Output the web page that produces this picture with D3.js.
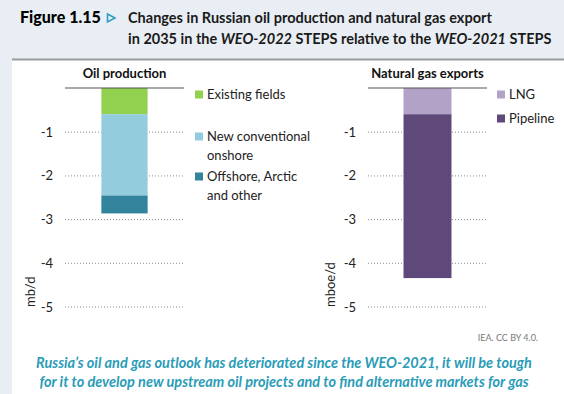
<!DOCTYPE html>
<html><head><meta charset="utf-8">
<script src="https://cdn.jsdelivr.net/npm/d3@7/dist/d3.min.js"></script>
<style>
html,body{margin:0;padding:0;background:#e9eef4;}
svg{display:block;}
</style></head>
<body><svg id="c" width="564" height="394"></svg>
<script>
// ---- data ----
const panelTitles = ["Oil production", "Natural gas exports"];
const unitLabels = ["mb/d", "mboe/d"];
const oilCategories = ["Existing fields", "New conventional onshore", "Offshore, Arctic and other"];
const oilValues = [-0.6, -1.86, -0.41];
const oilColors = ["#92d050", "#93cddd", "#31849b"];
const gasCategories = ["LNG", "Pipeline"];
const gasValues = [-0.6, -3.75];
const gasColors = ["#b3a2c7", "#5f497a"];
const yTicks = [-1, -2, -3, -4, -5];

const svg = d3.select("#c");
const FONT = "Lato, 'Open Sans', sans-serif";

// fit a text element's font size so that its width equals target
function fitWidth(sel, fs, target){
  sel.attr("font-size", fs);
  const w = sel.node().getComputedTextLength();
  const nfs = fs * target / w;
  sel.attr("font-size", nfs);
  return nfs;
}

// background
svg.append("rect").attr("x",0).attr("y",0).attr("width",564).attr("height",394).attr("fill","#e9eef4");
svg.append("rect").attr("x",12).attr("y",59).attr("width",552).attr("height",335).attr("fill","#ffffff");
svg.append("line").attr("x1",12).attr("x2",564).attr("y1",59.5).attr("y2",59.5).attr("stroke","#9a9a9a").attr("stroke-width",2);

// title
const fig = svg.append("text").attr("x",20).attr("y",22.5).attr("font-family",FONT).attr("font-weight",900).attr("fill","#000").text("Figure 1.15");
fitWidth(fig, 14.5, 81);
svg.append("path").attr("d","M107.5,14 L115,18 L107.5,22 Z").attr("fill","none").attr("stroke","#2c9fc0").attr("stroke-width",1.6);
svg.append("text").attr("x",128).attr("y",22.5).attr("font-family",FONT).attr("font-size",14.5).attr("font-weight",700).attr("fill","#1a1a1a")
  .text("Changes in Russian oil production and natural gas export");
const t2 = svg.append("text").attr("x",128).attr("y",44).attr("font-family",FONT).attr("font-size",14.5).attr("font-weight",700).attr("fill","#1a1a1a");
t2.append("tspan").text("in 2035 in the ");
t2.append("tspan").attr("font-style","italic").text("WEO-2022");
t2.append("tspan").text(" STEPS relative to the ");
t2.append("tspan").attr("font-style","italic").text("WEO-2021");
t2.append("tspan").text(" STEPS");

const y = d3.scaleLinear().domain([0, -5]).range([88, 306.5]);

function panel(opts){
  const g = svg.append("g");
  const x = d3.scaleBand().domain([opts.title]).range([opts.gx0, opts.gx1]).paddingInner(0).paddingOuter(opts.pad);
  // gridlines
  g.selectAll(".grid").data(yTicks).join("line")
    .attr("x1",opts.gx0).attr("x2",opts.gx1)
    .attr("y1",d=>y(d)+0.5).attr("y2",d=>y(d)+0.5)
    .attr("stroke","#8a8a8a").attr("stroke-width",1).attr("stroke-dasharray","1,2");
  // axis labels
  const ax = g.append("g").attr("transform",`translate(${opts.tickX},0)`)
    .call(d3.axisLeft(y).tickValues(yTicks).tickSize(0).tickPadding(0).tickFormat(d=>String(d)));
  ax.select(".domain").remove();
  ax.selectAll("text").attr("font-family",FONT).attr("font-size",13).attr("fill","#222").attr("dy","0.35em");
  // stacked bars
  let cum = 0;
  const segs = opts.values.map((v,i)=>{ const s={y0:cum,y1:cum+v,c:opts.colors[i]}; cum+=v; return s; });
  g.selectAll(".bar").data(segs).join("rect")
    .attr("x",x(opts.title)).attr("width",x.bandwidth())
    .attr("y",d=>y(d.y0)).attr("height",d=>y(d.y1)-y(d.y0))
    .attr("fill",d=>d.c);
  // header
  g.append("line").attr("x1",opts.gx0).attr("x2",opts.gx1).attr("y1",88).attr("y2",88).attr("stroke","#555").attr("stroke-width",1);
  g.append("text").attr("x",(opts.gx0+opts.gx1)/2).attr("y",78).attr("text-anchor","middle")
    .attr("font-family",FONT).attr("font-size",13).attr("font-weight",700).attr("fill","#111").text(opts.title);
  // unit
  g.append("text").attr("transform",`translate(${opts.unitX},307) rotate(-90)`)
    .attr("font-family",FONT).attr("font-size",13).attr("fill","#222").text(opts.unit);
  // legend
  opts.legend.forEach((L,i)=>{
    g.append("rect").attr("x",opts.lx).attr("y",L.y-4).attr("width",8).attr("height",8).attr("fill",opts.colors[i]);
    L.lines.forEach((ln,j)=>{
      g.append("text").attr("x",opts.lx+12).attr("y",L.y+4.5+j*18.5).attr("font-family",FONT).attr("font-size",13).attr("fill","#222").text(ln);
    });
  });
}

panel({title:panelTitles[0], unit:unitLabels[0], values:oilValues, colors:oilColors,
  gx0:65, gx1:184, pad:0.787, tickX:53, unitX:35, lx:195,
  legend:[{y:94.5,lines:[oilCategories[0]]},{y:136.5,lines:["New conventional","onshore"]},{y:176.5,lines:["Offshore, Arctic","and other"]}]});
panel({title:panelTitles[1], unit:unitLabels[1], values:gasValues, colors:gasColors,
  gx0:368, gx1:487, pad:0.74, tickX:356, unitX:335, lx:497,
  legend:[{y:94.5,lines:[gasCategories[0]]},{y:118.5,lines:[gasCategories[1]]}]});

// source
svg.append("text").attr("x",538).attr("y",341).attr("text-anchor","end").attr("font-family",FONT).attr("font-size",9).attr("fill","#777").text("IEA. CC BY 4.0.");
// caption
const cap = ["Russia’s oil and gas outlook has deteriorated since the WEO-2021, it will be tough",
             "for it to develop new upstream oil projects and to find alternative markets for gas"];
const c1 = svg.append("text").attr("x",284).attr("y",368).attr("text-anchor","middle")
    .attr("font-family",FONT).attr("font-style","italic").attr("font-weight",700)
    .attr("fill","#2a9cb7").text(cap[0]);
const cfs = fitWidth(c1, 13.5, 496);
svg.append("text").attr("x",284).attr("y",387).attr("text-anchor","middle")
    .attr("font-family",FONT).attr("font-size",cfs).attr("font-style","italic").attr("font-weight",700)
    .attr("fill","#2a9cb7").text(cap[1]);
</script></body></html>
